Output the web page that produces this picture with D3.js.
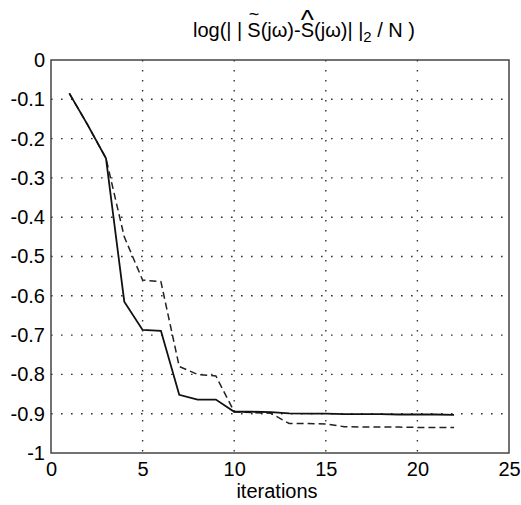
<!DOCTYPE html>
<html>
<head>
<meta charset="utf-8">
<script src="https://cdn.jsdelivr.net/npm/d3@7"></script>
<style>
  body { margin: 0; background: #fff; }
  svg text { font-family: "Liberation Sans", Arial, sans-serif; fill: #000; }
</style>
</head>
<body>
<div id="chart"></div>
<script>
// data
var iterations = [1, 2, 3, 4, 5, 6, 7, 8, 9, 10, 11, 12, 13, 14, 15, 16, 17, 18, 19, 20, 21, 22];
var solidErr = [-0.085, -0.165, -0.25, -0.615, -0.687, -0.689, -0.852, -0.864, -0.864, -0.895, -0.895,
                -0.896, -0.899, -0.9, -0.9, -0.901, -0.901, -0.901, -0.902, -0.902, -0.902, -0.903];
var dashedErr = [-0.085, -0.165, -0.25, -0.45, -0.56, -0.564, -0.78, -0.8, -0.804, -0.895, -0.897,
                 -0.899, -0.925, -0.925, -0.926, -0.933, -0.934, -0.934, -0.934, -0.935, -0.935, -0.935];
var xTicks = [0, 5, 10, 15, 20, 25];
var yTicks = [0, -0.1, -0.2, -0.3, -0.4, -0.5, -0.6, -0.7, -0.8, -0.9, -1];
var yTickLabels = ["0", "-0.1", "-0.2", "-0.3", "-0.4", "-0.5", "-0.6", "-0.7", "-0.8", "-0.9", "-1"];

var W = 521, H = 505;
var m = { left: 51, right: 509, top: 60, bottom: 453 };

const svg = d3.select("#chart").append("svg")
  .attr("width", W)
  .attr("height", H);

const x = d3.scaleLinear().domain([0, 25]).range([m.left, m.right]);
const y = d3.scaleLinear().domain([-1, 0]).range([m.bottom, m.top]);

// dotted grid
svg.append("g")
  .selectAll("line")
  .data(yTicks.slice(1, -1))
  .join("line")
  .attr("x1", m.left).attr("x2", m.right)
  .attr("y1", d => y(d)).attr("y2", d => y(d))
  .attr("stroke", "#333")
  .attr("stroke-width", 1.4)
  .attr("stroke-dasharray", "1.6,8.4");

svg.append("g")
  .selectAll("line")
  .data(xTicks.slice(1, -1))
  .join("line")
  .attr("x1", d => x(d)).attr("x2", d => x(d))
  .attr("y1", m.top).attr("y2", m.bottom)
  .attr("stroke", "#333")
  .attr("stroke-width", 1.4)
  .attr("stroke-dasharray", "1.6,8.4");

// frame
svg.append("rect")
  .attr("x", m.left).attr("y", m.top)
  .attr("width", m.right - m.left).attr("height", m.bottom - m.top)
  .attr("fill", "none")
  .attr("stroke", "#444")
  .attr("stroke-width", 1.5);

// axes (labels only)
const yAxis = svg.append("g")
  .attr("transform", `translate(${m.left},0)`)
  .call(d3.axisLeft(y).tickValues(yTicks).tickSize(0).tickPadding(6)
    .tickFormat((d, i) => yTickLabels[i]));
yAxis.select(".domain").remove();
yAxis.selectAll("text").style("font-size", "20px");

const xAxis = svg.append("g")
  .attr("transform", `translate(0,${m.bottom})`)
  .call(d3.axisBottom(x).tickValues(xTicks).tickSize(0).tickPadding(9)
    .tickFormat(d3.format("d")));
xAxis.select(".domain").remove();
xAxis.selectAll("text").style("font-size", "20px");

// lines
const line = d3.line()
  .x((d, i) => x(iterations[i]))
  .y(d => y(d));

svg.append("path")
  .datum(dashedErr)
  .attr("d", line)
  .attr("fill", "none")
  .attr("stroke", "#222")
  .attr("stroke-width", 1.5)
  .attr("stroke-dasharray", "7,4");

svg.append("path")
  .datum(solidErr)
  .attr("d", line)
  .attr("fill", "none")
  .attr("stroke", "#111")
  .attr("stroke-width", 1.8);

// x label
svg.append("text")
  .attr("x", 277)
  .attr("y", 498)
  .attr("text-anchor", "middle")
  .style("font-size", "20px")
  .text("iterations");

// title with tilde and hat accents
const title = svg.append("text")
  .attr("x", 193)
  .attr("y", 37)
  .style("font-size", "20px");
title.append("tspan").text("log(| |");
title.append("tspan").attr("dx", 5).text("S");
title.append("tspan").text("(jω)-");
title.append("tspan").text("S");
title.append("tspan").text("(jω)| |");
title.append("tspan").attr("dy", 5).style("font-size", "15px").text("2");
title.append("tspan").attr("dy", -5).text("  / N )");

const t = title.node();
const txt = t.textContent;
const i1 = txt.indexOf("S");
const i2 = txt.indexOf("S", i1 + 1);
const b1 = t.getExtentOfChar(i1);
const b2 = t.getExtentOfChar(i2);

svg.append("text")
  .attr("x", b1.x + b1.width / 2)
  .attr("y", 20)
  .attr("text-anchor", "middle")
  .style("font-size", "18px")
  .text("~");

svg.append("text")
  .attr("x", b2.x + b2.width / 2)
  .attr("y", 29)
  .attr("text-anchor", "middle")
  .style("font-size", "28px")
  .text("^");
</script>
</body>
</html>
